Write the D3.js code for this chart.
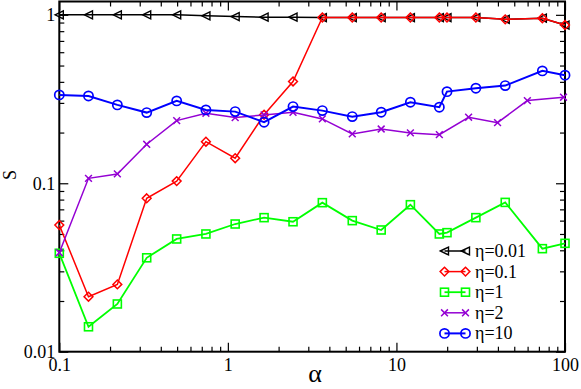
<!DOCTYPE html>
<html>
<head>
<meta charset="utf-8">
<script src="https://cdn.jsdelivr.net/npm/d3@7"></script>
<style>
  html, body { margin: 0; padding: 0; background: #fff; }
  svg { display: block; }
  svg text { font-family: "Liberation Serif", "Times New Roman", Times, "DejaVu Serif", serif !important; fill: #000; }
</style>
</head>
<body>
<svg id="chart" width="581" height="389" font-family="Liberation Serif, Times New Roman, serif"></svg>
<script>
// ---- data ----
const alphaMain = [0.1, 0.149, 0.221, 0.33, 0.497, 0.741, 1.105, 1.64, 2.435, 3.635, 5.47, 8.12, 12.1, 17.97, 19.95, 29.6, 44.2, 73.4, 100];
const alphaEta2 = [0.1, 0.149, 0.221, 0.33, 0.497, 0.741, 1.105, 1.64, 2.435, 3.635, 5.47, 8.12, 12.1, 17.97, 26.8, 39.8, 59.8, 98];

const sEta001 = [1.0, 1.0, 1.0, 1.0, 1.0, 0.987, 0.977, 0.969, 0.969, 0.964, 0.964, 0.964, 0.964, 0.964, 0.964, 0.964, 0.94, 0.955, 0.87];
const sEta01  = [0.0565, 0.0212, 0.0251, 0.0814, 0.103, 0.1766, 0.1408, 0.255, 0.402, 0.964, 0.964, 0.964, 0.964, 0.964, 0.964, 0.964, 0.94, 0.955, 0.87];
const sEta1   = [0.0384, 0.01406, 0.0192, 0.0361, 0.0467, 0.05, 0.0573, 0.0625, 0.0591, 0.0767, 0.06, 0.0528, 0.0746, 0.05, 0.0509, 0.0625, 0.077, 0.0409, 0.044];
const sEta2   = [0.0387, 0.107, 0.1136, 0.1704, 0.2355, 0.2606, 0.2455, 0.2547, 0.264, 0.241, 0.1963, 0.21, 0.199, 0.1944, 0.2466, 0.229, 0.3096, 0.3243];
const sEta10  = [0.3346, 0.330, 0.2919, 0.2628, 0.3083, 0.2727, 0.2663, 0.2304, 0.2852, 0.270, 0.2487, 0.2642, 0.3029, 0.2829, 0.350, 0.3668, 0.3802, 0.4648, 0.4383];

const seriesNames = ["η=0.01", "η=0.1", "η=1", "η=2", "η=10"];
const xMajorTicks = [0.1, 1, 10, 100];
const xTickLabels = ["0.1", "1", "10", "100"];
const yMajorTicks = [0.01, 0.1, 1];
const yTickLabels = ["0.01", "0.1", "1"];
const xLabel = "α";
const yLabel = "S";

// ---- layout ----
const FONT = "'Liberation Serif', 'Times New Roman', Times, 'DejaVu Serif', serif";
const L = 59.3, R = 565, T = 1.5, B = 351.7;
const svg = d3.select("#chart");

const x = d3.scaleLog().domain([0.1, 100]).range([L, R]);
const y = d3.scaleLog().domain([0.01, 1.2]).range([B, T]);

function minors(lo, hi) {
  const out = [];
  for (let e = Math.floor(Math.log10(lo)); e <= Math.ceil(Math.log10(hi)); e++) {
    for (let k = 2; k <= 9; k++) {
      const v = k * Math.pow(10, e);
      if (v > lo && v < hi) out.push(v);
    }
  }
  return out;
}
const xMinor = minors(0.1, 100);
const yMinor = minors(0.01, 1.2);

const fmtX = d => xTickLabels[xMajorTicks.indexOf(d)];
const fmtY = d => yTickLabels[yMajorTicks.indexOf(d)];

function styleAxis(g) {
  g.attr("font-family", FONT);
  g.select(".domain").remove();
  g.selectAll(".tick line").attr("stroke", "#000").attr("stroke-width", 1.2);
  g.selectAll(".tick text").attr("font-family", FONT).style("font-size", "18px").attr("fill", "#000");
}

// bottom
svg.append("g").attr("transform", `translate(0,${B})`)
  .call(d3.axisBottom(x).tickValues(xMajorTicks).tickFormat(fmtX).tickSizeInner(-9).tickSizeOuter(0).tickPadding(6.5))
  .call(styleAxis);
svg.append("g").attr("transform", `translate(0,${B})`)
  .call(d3.axisBottom(x).tickValues(xMinor).tickFormat("").tickSizeInner(-5).tickSizeOuter(0))
  .call(styleAxis);
// top
svg.append("g").attr("transform", `translate(0,${T})`)
  .call(d3.axisTop(x).tickValues(xMajorTicks).tickFormat("").tickSizeInner(-9).tickSizeOuter(0))
  .call(styleAxis);
svg.append("g").attr("transform", `translate(0,${T})`)
  .call(d3.axisTop(x).tickValues(xMinor).tickFormat("").tickSizeInner(-5).tickSizeOuter(0))
  .call(styleAxis);
// left
svg.append("g").attr("transform", `translate(${L},0)`)
  .call(d3.axisLeft(y).tickValues(yMajorTicks).tickFormat(fmtY).tickSizeInner(-9).tickSizeOuter(0).tickPadding(4))
  .call(styleAxis);
svg.append("g").attr("transform", `translate(${L},0)`)
  .call(d3.axisLeft(y).tickValues(yMinor).tickFormat("").tickSizeInner(-5).tickSizeOuter(0))
  .call(styleAxis);
// right
svg.append("g").attr("transform", `translate(${R},0)`)
  .call(d3.axisRight(y).tickValues(yMajorTicks).tickFormat("").tickSizeInner(-9).tickSizeOuter(0))
  .call(styleAxis);
svg.append("g").attr("transform", `translate(${R},0)`)
  .call(d3.axisRight(y).tickValues(yMinor).tickFormat("").tickSizeInner(-5).tickSizeOuter(0))
  .call(styleAxis);

// frame
svg.append("rect").attr("x", L).attr("y", T).attr("width", R - L).attr("height", B - T)
  .attr("fill", "none").attr("stroke", "#000").attr("stroke-width", 2);

// axis titles
svg.append("text").attr("x", 315).attr("y", 382).attr("text-anchor", "middle")
  .attr("font-family", FONT).style("font-size", "26px").text(xLabel);
svg.append("text").attr("transform", "translate(16,175) rotate(-90)").attr("text-anchor", "middle")
  .attr("font-family", FONT).style("font-size", "18px").text(yLabel);

// ---- markers ----
function drawMarker(g, type, color, cx, cy) {
  if (type === "tri") {
    g.append("path").attr("d", `M${cx - 4.2},${cy} L${cx + 4},${cy - 4} L${cx + 4},${cy + 4} Z`)
      .attr("fill", "none").attr("stroke", color).attr("stroke-width", 1.4);
  } else if (type === "diamond") {
    g.append("path").attr("d", `M${cx},${cy - 4.4} L${cx + 4.4},${cy} L${cx},${cy + 4.4} L${cx - 4.4},${cy} Z`)
      .attr("fill", "none").attr("stroke", color).attr("stroke-width", 1.5);
  } else if (type === "square") {
    g.append("rect").attr("x", cx - 4).attr("y", cy - 4).attr("width", 8).attr("height", 8)
      .attr("fill", "none").attr("stroke", color).attr("stroke-width", 1.6);
  } else if (type === "x") {
    g.append("path").attr("d", `M${cx - 3.4},${cy - 3.4} L${cx + 3.4},${cy + 3.4} M${cx - 3.4},${cy + 3.4} L${cx + 3.4},${cy - 3.4}`)
      .attr("fill", "none").attr("stroke", color).attr("stroke-width", 1.5);
  } else if (type === "circle") {
    g.append("circle").attr("cx", cx).attr("cy", cy).attr("r", 4.6)
      .attr("fill", "none").attr("stroke", color).attr("stroke-width", 1.7);
  }
}

const series = [
  { name: seriesNames[0], xs: alphaMain, ys: sEta001, color: "#000000", marker: "tri", lw: 1.5 },
  { name: seriesNames[1], xs: alphaMain, ys: sEta01, color: "#ff0000", marker: "diamond", lw: 1.5 },
  { name: seriesNames[2], xs: alphaMain, ys: sEta1, color: "#00ff00", marker: "square", lw: 1.8 },
  { name: seriesNames[3], xs: alphaEta2, ys: sEta2, color: "#9400d3", marker: "x", lw: 1.5 },
  { name: seriesNames[4], xs: alphaMain, ys: sEta10, color: "#0000ff", marker: "circle", lw: 2 }
];

const line = d3.line().x(d => x(d[0])).y(d => y(d[1]));

series.forEach(s => {
  const g = svg.append("g");
  const pts = s.xs.map((v, i) => [v, s.ys[i]]);
  g.append("path").datum(pts).attr("d", line).attr("fill", "none")
    .attr("stroke", s.color).attr("stroke-width", s.lw).attr("stroke-linejoin", "miter");
  pts.forEach(p => drawMarker(g, s.marker, s.color, x(p[0]), y(p[1])));
});

// ---- legend ----
const legY0 = 251, legDy = 20.6;
series.forEach((s, i) => {
  const g = svg.append("g");
  const ly = legY0 + i * legDy;
  g.append("line").attr("x1", 444.5).attr("x2", 465.5).attr("y1", ly).attr("y2", ly)
    .attr("stroke", s.color).attr("stroke-width", s.lw);
  drawMarker(g, s.marker, s.color, 444.5, ly);
  drawMarker(g, s.marker, s.color, 465.5, ly);
  g.append("text").attr("x", 475).attr("y", ly + 6).attr("font-family", FONT).style("font-size", "18px").text(s.name);
});
</script>
</body>
</html>
